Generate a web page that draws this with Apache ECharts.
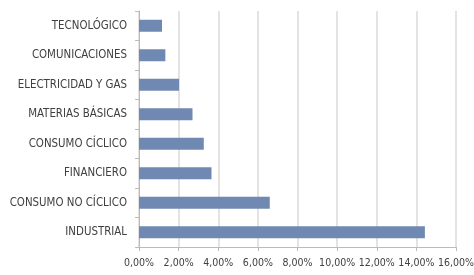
<!DOCTYPE html>
<html><head><meta charset="utf-8">
<script src="https://cdn.jsdelivr.net/npm/echarts@6/dist/echarts.min.js"></script>
<style>html,body{margin:0;padding:0;background:#fff}#c{width:474px;height:275px}</style>
</head><body><div id="c"></div>
<script>
const categories = ["INDUSTRIAL","CONSUMO NO CÍCLICO","FINANCIERO","CONSUMO CÍCLICO","MATERIAS BÁSICAS","ELECTRICIDAD Y GAS","COMUNICACIONES","TECNOLÓGICO"];
const values = [14.43, 6.60, 3.66, 3.27, 2.70, 2.02, 1.33, 1.16];
const xTicks = [0, 2, 4, 6, 8, 10, 12, 14, 16];
const FONT = "'Liberation Sans Narrow', 'DejaVu Sans Condensed', sans-serif";
const chart = echarts.init(document.getElementById('c'), null, {renderer:'canvas'});
chart.setOption({
  animation:false,
  grid:{left:139, right:18, top:11, bottom:28, containLabel:false, outerBoundsMode:'none'},
  xAxis:{type:'value', min:xTicks[0], max:xTicks[xTicks.length-1], interval:2,
    axisLine:{show:true, lineStyle:{color:'#bdbab7', width:1}},
    axisTick:{show:true, length:4, lineStyle:{color:'#bdbab7'}},
    splitLine:{show:true, lineStyle:{color:'#dcd9d6', width:1.5}},
    axisLabel:{color:'#404040', fontSize:10.5, fontFamily:FONT, margin:11, hideOverlap:false, showMaxLabel:true,
      formatter:v=>v.toFixed(2).replace('.',',')+'%'}},
  yAxis:{type:'category', data:categories,
    axisLine:{show:true, lineStyle:{color:'#bdbab7', width:1}},
    axisTick:{show:true, length:4, lineStyle:{color:'#bdbab7'}},
    axisLabel:{color:'#404040', fontSize:11.4, fontFamily:FONT, margin:12}},
  series:[{type:'bar', data:values, barWidth:12, itemStyle:{color:'#7089b3'}}]
});
</script></body></html>
